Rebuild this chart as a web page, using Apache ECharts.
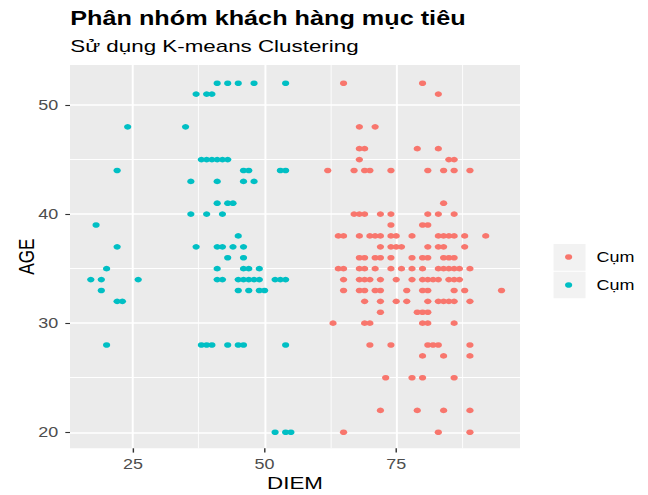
<!DOCTYPE html>
<html>
<head>
<meta charset="utf-8">
<script src="https://cdn.jsdelivr.net/npm/echarts@6/dist/echarts.min.js"></script>
<style>
  html, body { margin: 0; padding: 0; background: #fff; overflow: hidden; }
  /* the source picture is stretched sideways, so the chart is drawn narrow and widened */
  #main { width: 498px; height: 495px; transform: scaleX(1.3012); transform-origin: 0 0; }
</style>
</head>
<body>
<div id="main"></div>
<script>
// Cụm 1 (đỏ): mỗi tuổi một hàng, kèm các DIEM ở tuổi đó
const cum1Age = [52, 51, 48, 46, 45, 44, 41, 40, 39, 38, 37, 36, 35, 34, 33, 32, 31, 30, 28, 27, 25, 22, 20];
const cum1Diem = [
  [65, 80],
  [83],
  [68, 71],
  [68, 69, 79, 83],
  [68, 85, 86],
  [62, 67, 69, 70, 74, 81, 84, 86, 89],
  [84],
  [67, 68, 69, 72, 74, 81, 83, 86],
  [74, 80, 81],
  [64, 65, 68, 70, 71, 72, 74, 75, 78, 83, 84, 85, 86, 88, 92],
  [72, 74, 75, 76, 81, 83, 84, 88],
  [68, 69, 71, 72, 74, 78, 80, 81, 84, 85, 86],
  [64, 65, 68, 69, 71, 74, 76, 78, 80, 83, 84, 85, 86, 87, 89],
  [65, 68, 69, 70, 72, 75, 78, 80, 81, 82, 83, 85, 86, 87],
  [65, 68, 69, 71, 72, 77, 80, 81, 86, 88, 95],
  [69, 72, 75, 77, 81, 83, 84, 85, 86, 89],
  [72, 79, 80, 81],
  [63, 69, 70, 80, 81, 86],
  [70, 74, 81, 82, 83, 89],
  [80, 84, 89],
  [73, 78, 80, 86],
  [72, 79, 84, 89],
  [65, 83, 89]
];

// Cụm 2 (xanh)
const cum2Age = [52, 51, 48, 45, 44, 43, 41, 40, 39, 38, 37, 36, 35, 34, 33, 32, 28, 20];
const cum2Diem = [
  [41, 43, 45, 48, 54],
  [37, 39, 40],
  [24, 35],
  [38, 39, 40, 41, 42, 43],
  [22, 46, 47, 53, 54],
  [36, 41, 46, 48],
  [41, 43, 44],
  [36, 39, 42],
  [18],
  [45],
  [22, 37, 41, 42, 44, 46],
  [43, 46],
  [20, 41, 46, 47, 49],
  [17, 19, 26, 41, 42, 45, 46, 47, 48, 49, 52, 53, 54],
  [19, 45, 47, 49, 50],
  [22, 23],
  [20, 38, 39, 40, 43, 45, 46, 54],
  [52, 54, 55]
];

const xTicks = [25, 50, 75];
const xMinor = [37.5, 62.5, 87.5];
const yTicks = [20, 30, 40, 50];
const yMinor = [25, 35, 45];
const xRange = [13.05, 98.5];
const yRange = [18.53, 53.67];

const FONT = "'Liberation Sans', Arial, sans-serif";

function toPoints(ages, diems) {
  let pts = [];
  ages.forEach((a, i) => {
    diems[i].forEach(d => pts.push([d, a]));
  });
  return pts;
}

let chart = echarts.init(document.getElementById('main'), null, { renderer: 'svg' });

let option = {
  animation: false,
  backgroundColor: '#fff',
  title: {
    text: 'Phân nhóm khách hàng mục tiêu',
    subtext: 'Sử dụng K-means Clustering',
    left: 54,
    top: 9,
    padding: 0,
    itemGap: 9,
    textStyle: { fontFamily: FONT, fontSize: 19.4, fontWeight: 'bold', color: '#000' },
    subtextStyle: { fontFamily: FONT, fontSize: 17.2, color: '#000' }
  },
  legend: {
    orient: 'vertical',
    left: 434.2,
    top: 243.5,
    padding: 0,
    itemWidth: 5.6,
    itemHeight: 5.6,
    itemGap: 1,
    icon: 'circle',
    selectedMode: false,
    formatter: () => 'Cụm',
    textStyle: { fontFamily: FONT, fontSize: 13.8, color: '#000', lineHeight: 27, padding: [0, 0, 0, 13.7] }
  },
  graphic: [
    { type: 'rect', z: 1, shape: { x: 425.4, y: 244, width: 24.6, height: 26.7 }, style: { fill: '#F2F2F2' } },
    { type: 'rect', z: 1, shape: { x: 425.4, y: 271.7, width: 24.6, height: 26.5 }, style: { fill: '#F2F2F2' } }
  ],
  grid: {
    left: 53.8,
    right: 98.4,
    top: 65,
    bottom: 46.7,
    show: true,
    backgroundColor: '#EBEBEB',
    borderWidth: 0,
    containLabel: false,
    outerBoundsMode: 'none'
  },
  xAxis: [
    {
      type: 'value',
      min: xRange[0],
      max: xRange[1],
      position: 'bottom',
      name: 'DIEM',
      nameLocation: 'middle',
      nameGap: 26.5,
      nameMoveOverlap: false,
      nameTextStyle: { fontFamily: FONT, fontSize: 17.2, color: '#000' },
      axisLine: { show: false },
      axisTick: { show: true, customValues: xTicks, length: 4.3, lineStyle: { color: '#333333', width: 1.1 } },
      axisLabel: { customValues: xTicks, color: '#4D4D4D', fontFamily: FONT, fontSize: 13.8, margin: 9 },
      splitLine: { show: true, lineStyle: { color: '#ffffff', width: 1.5 } }
    },
    {
      type: 'value',
      min: xRange[0],
      max: xRange[1],
      position: 'top',
      axisLine: { show: false },
      axisTick: { show: false, customValues: xMinor },
      axisLabel: { show: false, customValues: xMinor },
      splitLine: { show: true, lineStyle: { color: '#ffffff', width: 0.75 } }
    }
  ],
  yAxis: [
    {
      type: 'value',
      min: yRange[0],
      max: yRange[1],
      position: 'left',
      name: 'AGE',
      nameLocation: 'middle',
      nameGap: 25,
      nameMoveOverlap: false,
      nameTextStyle: { fontFamily: FONT, fontSize: 17.2, color: '#000' },
      axisLine: { show: false },
      axisTick: { show: true, customValues: yTicks, length: 3.6, lineStyle: { color: '#333333', width: 1.1 } },
      axisLabel: { customValues: yTicks, color: '#4D4D4D', fontFamily: FONT, fontSize: 13.8, margin: 9 },
      splitLine: { show: true, lineStyle: { color: '#ffffff', width: 1.6 } }
    },
    {
      type: 'value',
      min: yRange[0],
      max: yRange[1],
      position: 'right',
      axisLine: { show: false },
      axisTick: { show: false, customValues: yMinor },
      axisLabel: { show: false, customValues: yMinor },
      splitLine: { show: true, lineStyle: { color: '#ffffff', width: 0.85 } }
    }
  ],
  series: [
    {
      name: 'Cụm 1',
      type: 'scatter',
      xAxisIndex: 0,
      yAxisIndex: 0,
      symbolSize: 5.6,
      itemStyle: { color: '#F8766D', opacity: 1 },
      emphasis: { disabled: true },
      data: toPoints(cum1Age, cum1Diem)
    },
    {
      name: 'Cụm 2',
      type: 'scatter',
      xAxisIndex: 0,
      yAxisIndex: 0,
      symbolSize: 5.6,
      itemStyle: { color: '#00BFC4', opacity: 1 },
      emphasis: { disabled: true },
      data: toPoints(cum2Age, cum2Diem)
    }
  ]
};

chart.setOption(option);
</script>
</body>
</html>
